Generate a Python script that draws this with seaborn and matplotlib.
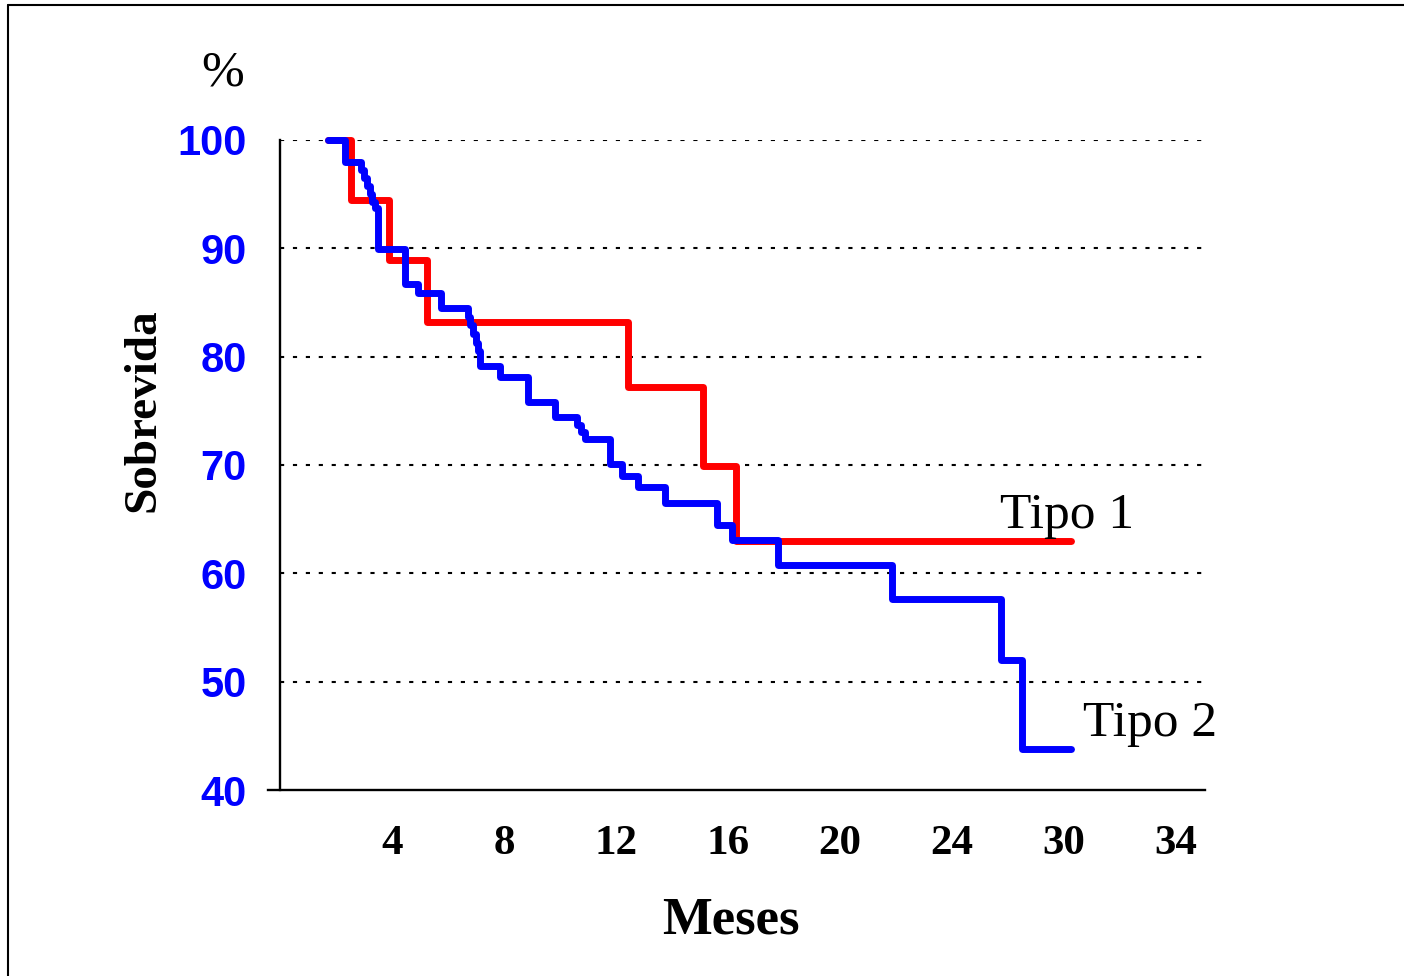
import pandas as pd
import matplotlib
matplotlib.use("Agg")
import matplotlib.pyplot as plt
import seaborn as sns
from matplotlib.lines import Line2D

# Curva Tipo 1 (tempo em meses, sobrevida %)
tempo_tipo1 = [1.7, 2.55, 3.9, 5.25, 12.43, 15.1, 16.3, 28.25]
sobrev_tipo1 = [100, 94.5, 88.9, 83.2, 77.2, 69.9, 63.0, 63.0]

# Curva Tipo 2
tempo_tipo2 = [1.7, 2.32, 2.9, 3.0, 3.1, 3.2, 3.3, 3.4, 3.5, 4.46, 4.93, 5.74,
               6.7, 6.8, 6.9, 7.0, 7.07, 7.14, 7.86, 8.86, 9.82, 10.6, 10.75,
               10.89, 11.79, 12.2, 12.8, 13.75, 15.6, 16.15, 17.8, 21.85,
               25.75, 26.5, 28.27]
sobrev_tipo2 = [100, 98.0, 97.2, 96.5, 95.8, 95.0, 94.3, 93.7, 89.9, 86.7,
                85.9, 84.45, 83.7, 82.9, 82.1, 81.3, 80.5, 79.1, 78.1, 75.85,
                74.4, 73.7, 73.0, 72.4, 70.05, 68.95, 68.0, 66.5, 64.5, 63.1,
                60.8, 57.6, 52.0, 43.8, 43.8]

x_ticks = [0, 4, 8, 12, 16, 20, 24, 28, 32]
x_labels = ["", "4", "8", "12", "16", "20", "24", "30", "34"]
y_ticks = [40, 50, 60, 70, 80, 90, 100]

df = pd.concat([
    pd.DataFrame({"Meses": tempo_tipo1, "Sobrevida": sobrev_tipo1, "tipo": "Tipo 1"}),
    pd.DataFrame({"Meses": tempo_tipo2, "Sobrevida": sobrev_tipo2, "tipo": "Tipo 2"}),
], ignore_index=True)

sns.set_style("white")
plt.rcParams["font.family"] = ["Liberation Serif", "DejaVu Serif"]
plt.rcParams["text.color"] = "black"
plt.rcParams["xtick.color"] = "black"
plt.rcParams["ytick.color"] = "black"

W, H = 1404, 976
fig = plt.figure(figsize=(W / 100, H / 100), dpi=100)
ax = fig.add_axes([280 / W, (H - 790) / H, (1205 - 280) / W, (790 - 140) / H])

sns.lineplot(data=df, x="Meses", y="Sobrevida", hue="tipo",
             hue_order=["Tipo 1", "Tipo 2"],
             palette={"Tipo 1": "#ff0000", "Tipo 2": "#0000ff"},
             drawstyle="steps-post", estimator=None, sort=False,
             linewidth=5, legend=False, clip_on=False, ax=ax, zorder=3)

ax.set_xlim(0, 33.04)
ax.set_ylim(40, 100)

# grade pontilhada
for v in y_ticks[1:]:
    ax.axhline(v, color="black", lw=1.5, ls=(0, (2, 4.2)), zorder=1)

for s in ["top", "right"]:
    ax.spines[s].set_visible(False)
for s in ["left", "bottom"]:
    ax.spines[s].set_linewidth(1.7)
    ax.spines[s].set_color("black")
ax.spines["bottom"].set_bounds(-0.43, 33.04)

ax.set_xticks(x_ticks)
ax.set_xticklabels(x_labels, fontsize=31, fontweight="bold", color="black")
ax.set_yticks(y_ticks)
ax.set_yticklabels([str(v) for v in y_ticks], fontsize=30, fontweight="bold",
                   color="#0000ff", family=["Liberation Sans", "DejaVu Sans"])
ax.tick_params(axis="x", direction="out", length=9, width=1.5, pad=16)
ax.tick_params(axis="y", direction="out", length=9, width=1.5, pad=15)
ax.set_xlabel("")
ax.set_ylabel("")

fig.text(731 / W, 1 - 920 / H, "Meses", fontsize=38, fontweight="bold",
         ha="center", va="center")
fig.text(143 / W, 1 - 410 / H, "Sobrevida", fontsize=34, fontweight="bold",
         rotation=90, ha="center", va="center")
fig.text(223 / W, 1 - 73 / H, "%", fontsize=37, ha="center", va="center")

ax.text(28.1, 64.18, "Tipo 1", fontsize=37, ha="center", va="baseline")
ax.text(31.07, 44.98, "Tipo 2", fontsize=37, ha="center", va="baseline")

# moldura (so esquerda e topo)
fig.add_artist(Line2D([8 / W, 8 / W], [0, 1 - 5 / H], color="black", lw=1.5))
fig.add_artist(Line2D([8 / W, 1], [1 - 5 / H, 1 - 5 / H], color="black", lw=1.5))

fig.savefig("out.png", dpi=100)
